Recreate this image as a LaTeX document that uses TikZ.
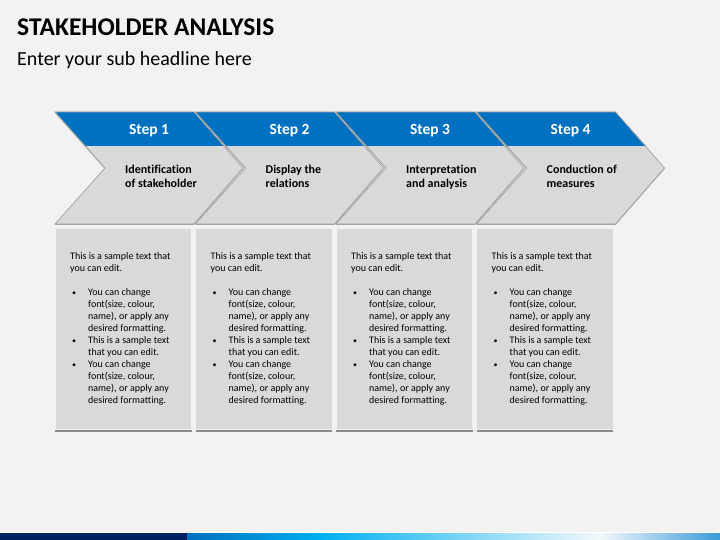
\documentclass[tikz,border=0pt]{standalone}
\usepackage{fontspec}
\setmainfont{Carlito}[Ligatures=NoCommon]
\usetikzlibrary{shadows}
\definecolor{bg}{HTML}{F2F2F2}
\definecolor{chgrey}{HTML}{D9D9D9}
\definecolor{stepblue}{HTML}{0070C0}
\definecolor{navy}{HTML}{002060}
\definecolor{cyanb}{HTML}{00B0F0}
\definecolor{edgegrey}{HTML}{A0A0A0}
\definecolor{barlight}{HTML}{F4F8FB}
\definecolor{barend}{HTML}{3A9AD8}
\newcommand{\bul}{\makebox[18pt][l]{\hspace{2pt}\scalebox{0.8}{\textbullet}}}
\newcommand{\ind}{\hspace*{18pt}}
\newcommand{\bodycontent}{\begin{tabular}[t]{@{}l@{}}This is a sample text that\\
you can edit.\\[12pt]
\bul You can change\\
\ind font(size, colour,\\
\ind name), or apply any\\
\ind desired formatting.\\
\bul This is a sample text\\
\ind that you can edit.\\
\bul You can change\\
\ind font(size, colour,\\
\ind name), or apply any\\
\ind desired formatting.\end{tabular}}
\begin{document}
\begin{tikzpicture}[x=1pt,y=-1pt,
  chevfill/.style={fill=chgrey, drop shadow={shadow xshift=0pt, shadow yshift=-1pt, fill=black!35, opacity=1}},
  chevedge/.style={draw=edgegrey, line width=0.7pt, line join=miter},
  bluepart/.style={fill=stepblue},
  steplabel/.style={font=\bfseries\fontsize{15.5}{18}\selectfont, text=white, anchor=base, inner sep=0pt},
  chevtitle/.style={font=\bfseries\fontsize{12}{14}\selectfont, anchor=base west, inner sep=0pt},
  infobox/.style={fill=chgrey, draw=white!60!chgrey, line width=0.6pt, drop shadow={shadow xshift=0pt, shadow yshift=-2.5pt, fill=black!45, opacity=1}},
  bodytext/.style={font=\fontsize{10}{12}\selectfont, anchor=base west, inner sep=0pt},
]
% background
\fill[bg] (0,0) rectangle (720,540);
\useasboundingbox (0,0) rectangle (720,540);

% headings
\node[anchor=base west, inner sep=0pt, font=\bfseries\fontsize{25.5}{30}\selectfont] (title) at (17,35.5) {STAKEHOLDER ANALYSIS};
\node[anchor=base west, inner sep=0pt, font=\fontsize{20}{24}\selectfont] (subtitle) at (17,66) {Enter your sub headline here};

% chevrons and boxes
\foreach \k/\ta/\tb in {0/Identification/of stakeholder, 1/Display the/relations, 2/Interpretation/and analysis, 3/Conduction of/measures}{
  \pgfmathsetmacro{\L}{55+140.5*\k}
  \pgfmathtruncatemacro{\n}{\k+1}
  \path[chevfill] (\L,112) -- (\L+139,112) -- (\L+188,168) -- (\L+139,224) -- (\L,224) -- (\L+50,168) -- cycle;
  \fill[bluepart] (\L,112) -- (\L+139,112) -- (\L+169.4,146) -- (\L+30.4,146) -- cycle;
  \draw[chevedge] (\L,112) -- (\L+139,112) -- (\L+188,168) -- (\L+139,224) -- (\L,224) -- (\L+50,168) -- cycle;
  \node[steplabel] (step\n) at (\L+94,135) {Step \n};
  \node[chevtitle] (ctitle\n) at (\L+70,174) {\begin{tabular}[t]{@{}l@{}}\ta\\[-0.6pt]\tb\end{tabular}};
  \path[infobox] (\L,228) rectangle (\L+136.5,429);
  \node[bodytext] (body\n) at (\L+15,259) {\bodycontent};
}

% bottom bar
\draw[white, line width=0.8pt] (0,532.4) -- (720,532.4);
\fill[navy] (0,533) rectangle (187.5,540);
\shade[left color=stepblue, right color=cyanb] (187,533) rectangle (321.5,540);
\shade[left color=cyanb, right color=barlight] (321,533) rectangle (600.5,540);
\shade[left color=barlight, right color=barend] (600,533) rectangle (720,540);
\end{tikzpicture}
\end{document}
